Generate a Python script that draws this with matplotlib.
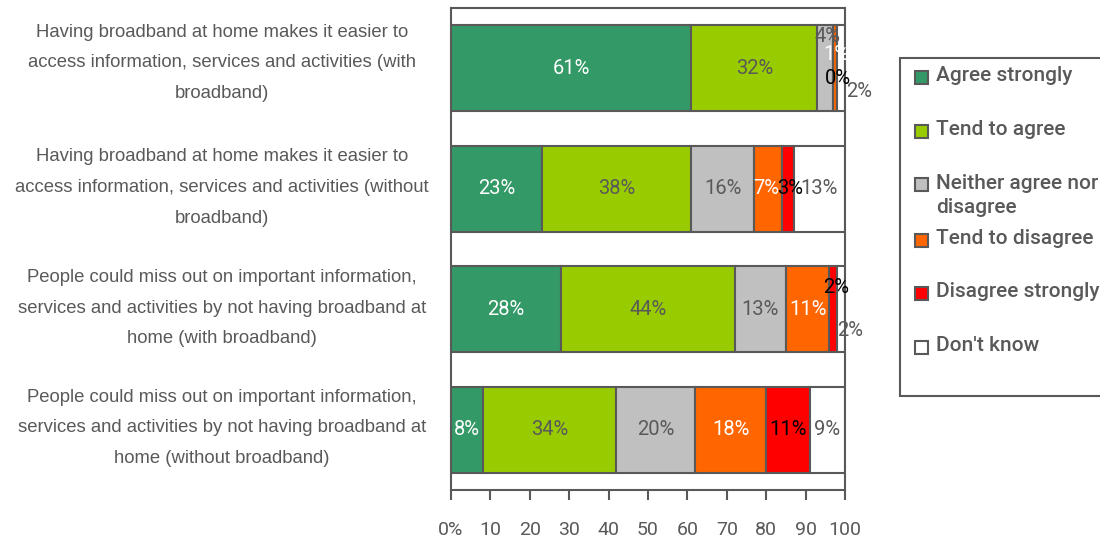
import matplotlib
matplotlib.use("Agg")
import matplotlib.pyplot as plt
from matplotlib.patches import Rectangle

plt.rcParams['font.family'] = ['Liberation Sans', 'DejaVu Sans']

categories = [
    "Having broadband at home makes it easier to\naccess information, services and activities (with\nbroadband)",
    "Having broadband at home makes it easier to\naccess information, services and activities (without\nbroadband)",
    "People could miss out on important information,\nservices and activities by not having broadband at\nhome (with broadband)",
    "People could miss out on important information,\nservices and activities by not having broadband at\nhome (without broadband)",
]
series_names = ["Agree strongly", "Tend to agree", "Neither agree nor\ndisagree",
                "Tend to disagree", "Disagree strongly", "Don't know"]
agree_strongly = [61, 23, 28, 8]
tend_agree = [32, 38, 44, 34]
neither = [4, 16, 13, 20]
tend_disagree = [1, 7, 11, 18]
disagree_strongly = [0, 3, 2, 11]
dont_know = [2, 13, 2, 9]
xticks = [0, 10, 20, 30, 40, 50, 60, 70, 80, 90, 100]
xticklabels = ["0%", "10", "20", "30", "40", "50", "60", "70", "80", "90", "100"]

colors = ['#339966', '#99cc00', '#c0c0c0', '#ff6600', '#ff0000', '#ffffff']
label_colors = ['white', '#595959', '#595959', 'white', 'black', '#595959']
edge = '#595959'
num_font = ['Roboto', 'Liberation Sans', 'DejaVu Sans']
# nudges (dx in %, dy in rows) for labels of tiny segments
nudges = {(2, 0): (0.6, -0.26), (3, 0): (0.2, -0.11), (4, 0): (0.2, 0.087),
          (5, 0): (4.6, 0.195), (4, 2): (0.8, -0.18), (5, 2): (2.3, 0.18),
          (3, 1): (-0.6, 0), (4, 1): (0.6, 0)}

fig = plt.figure(figsize=(11, 5.39), dpi=100)
ax = fig.add_axes([451/1100, 1-490/539, 394/1100, 482/539])

data = [agree_strongly, tend_agree, neither, tend_disagree, disagree_strongly, dont_know]
y = list(range(len(categories)))
left = [0]*len(categories)
for si, vals in enumerate(data):
    ax.barh(y, vals, left=left, height=0.714, color=colors[si], edgecolor=edge, linewidth=1.5, zorder=2)
    for ri, v in enumerate(vals):
        dx, dy = nudges.get((si, ri), (0, 0))
        ax.text(left[ri] + v/2 + dx, ri + dy, f"{v}%", ha='center', va='center',
                color=label_colors[si], fontsize=14.5, family=num_font, zorder=3, clip_on=False)
    left = [l + v for l, v in zip(left, vals)]

ax.set_xlim(0, 100)
ax.set_ylim(len(categories) - 0.5, -0.5)
ax.set_xticks(xticks)
ax.set_xticklabels(xticklabels, fontsize=14, color='#595959', family=num_font)
ax.tick_params(axis='x', direction='out', length=7, width=1.5, color=edge, pad=15)
ax.set_yticks([])
for s in ax.spines.values():
    s.set_color(edge)
    s.set_linewidth(1.5)

label_dy = [-0.045, -0.01, -0.01, -0.015]
for ri, cat in enumerate(categories):
    ax.text(-0.581, ri + label_dy[ri], cat, transform=ax.get_yaxis_transform(), ha='center', va='center',
            multialignment='center', fontsize=13.3, color='#595959', linespacing=2.05)

# legend box, drawn by hand to keep the row spacing of the original
W, H = 1100, 539
fig.add_artist(Rectangle((900/W, 1-396/H), 220/W, 338/H, transform=fig.transFigure,
                         facecolor='white', edgecolor=edge, linewidth=1.5, clip_on=False))
rows_y = [77, 131, 185, 240, 293, 347]
for name, c, yy in zip(series_names, colors, rows_y):
    fig.add_artist(Rectangle((915/W, 1-(yy+6.5)/H), 13/W, 13/H, transform=fig.transFigure,
                             facecolor=c, edgecolor=edge, linewidth=1.5))
    fig.text(936/W, 1-(yy-11)/H, name, ha='left', va='top', fontsize=15, fontweight='medium',
             family=num_font, color='#595959', linespacing=1.3)

fig.savefig("out.png", dpi=100)
